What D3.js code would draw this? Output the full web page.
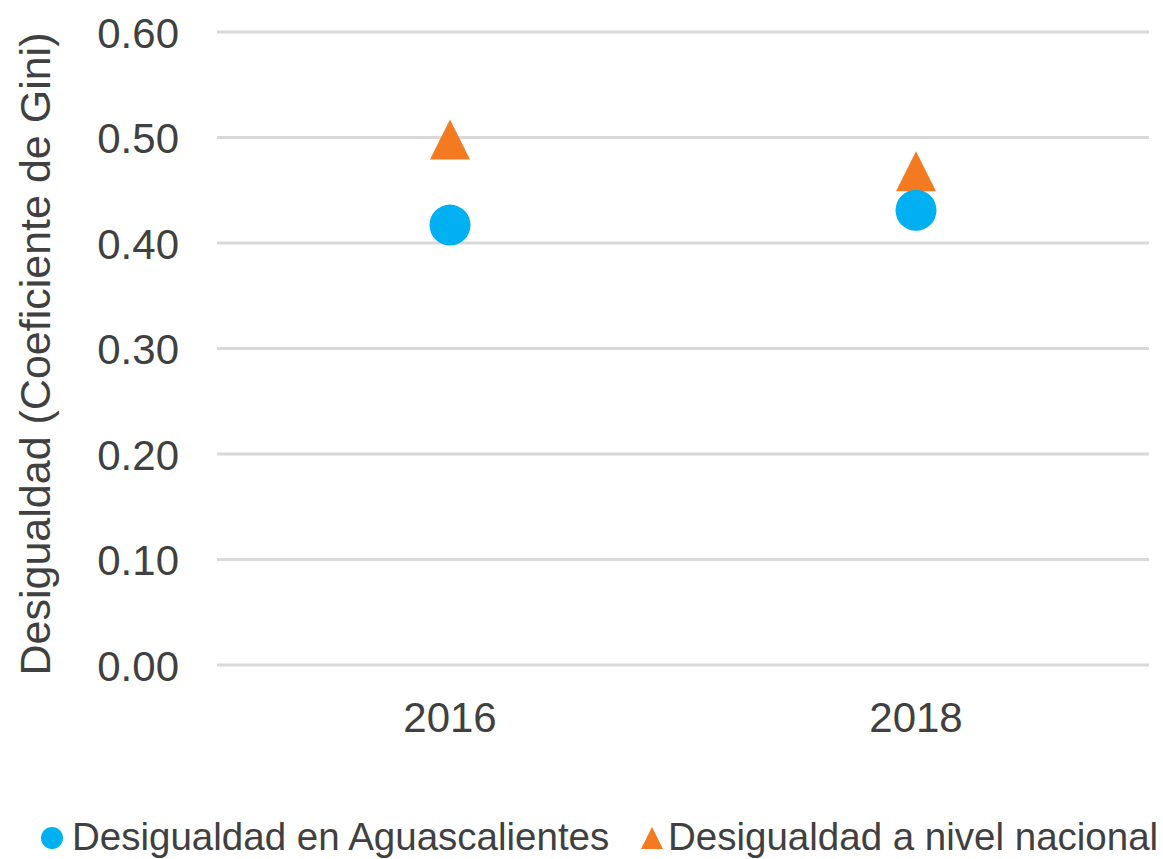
<!DOCTYPE html>
<html>
<head>
<meta charset="utf-8">
<script src="https://cdn.jsdelivr.net/npm/d3@7"></script>
<style>
  body { margin: 0; background: #fff; }
  text { font-family: "Liberation Sans", Arial, sans-serif; fill: #404040; }
</style>
</head>
<body>
<div id="chart"></div>
<script>
// Data
var years = ["2016", "2018"];
var aguascalientes = [0.417, 0.431];
var nacional = [0.498, 0.468];
var yTicks = [0, 0.1, 0.2, 0.3, 0.4, 0.5, 0.6];
var seriesNames = ["Desigualdad en Aguascalientes", "Desigualdad a nivel nacional"];
var seriesColors = ["#00b0f0", "#f37a20"];

var width = 1163, height = 859;

var svg = d3.select("#chart")
    .append("svg")
    .attr("width", width)
    .attr("height", height);

// Scales
var x = d3.scaleBand()
    .domain(years)
    .range([217, 1149]);

var y = d3.scaleLinear()
    .domain([0, 0.6])
    .range([665, 32]);

// Triangle with equal width and height, centred on its box
var boxTriangle = {
    draw: function(ctx, size) {
        var h = Math.sqrt(size) / 2;
        ctx.moveTo(0, -h);
        ctx.lineTo(h, h);
        ctx.lineTo(-h, h);
        ctx.closePath();
    }
};

// Gridlines
svg.append("g")
    .selectAll("line")
    .data(yTicks)
    .enter().append("line")
    .attr("x1", x.range()[0])
    .attr("x2", x.range()[1])
    .attr("y1", function(d) { return y(d); })
    .attr("y2", function(d) { return y(d); })
    .style("stroke", "#d9d9d9")
    .style("stroke-width", 3);

// Y axis labels
var yAxis = svg.append("g")
    .attr("transform", "translate(179,0)")
    .call(d3.axisLeft(y).tickValues(yTicks).tickFormat(d3.format(".2f")).tickSize(0).tickPadding(0));
yAxis.select(".domain").remove();
yAxis.selectAll("text")
    .style("font-size", "42px")
    .attr("dy", "0.36em")
    .style("fill", "#404040");

// X axis labels
var xAxis = svg.append("g")
    .attr("transform", "translate(0,700)")
    .call(d3.axisBottom(x).tickSize(0).tickPadding(0));
xAxis.select(".domain").remove();
xAxis.selectAll("text")
    .style("font-size", "42px")
    .attr("dy", "0.76em")
    .style("fill", "#404040");

// Y axis title
svg.append("text")
    .attr("transform", "translate(50,354) rotate(-90)")
    .attr("text-anchor", "middle")
    .style("font-size", "43px")
    .text("Desigualdad (Coeficiente de Gini)");

// Markers
var cx = function(i) { return x(years[i]) + x.bandwidth() / 2; };

svg.append("g")
    .selectAll("path")
    .data(nacional)
    .enter().append("path")
    .attr("d", d3.symbol().type(boxTriangle).size(40 * 40))
    .attr("transform", function(d, i) { return "translate(" + cx(i) + "," + y(d) + ")"; })
    .style("fill", seriesColors[1]);

svg.append("g")
    .selectAll("circle")
    .data(aguascalientes)
    .enter().append("circle")
    .attr("cx", function(d, i) { return cx(i); })
    .attr("cy", function(d) { return y(d); })
    .attr("r", 20.5)
    .style("fill", seriesColors[0]);

// Legend
var legend = svg.append("g");
legend.append("circle")
    .attr("cx", 52)
    .attr("cy", 838)
    .attr("r", 11)
    .style("fill", seriesColors[0]);
legend.append("text")
    .attr("x", 72)
    .attr("y", 850)
    .style("font-size", "38.5px")
    .text(seriesNames[0]);
legend.append("path")
    .attr("d", d3.symbol().type(boxTriangle).size(22 * 22))
    .attr("transform", "translate(652,838)")
    .style("fill", seriesColors[1]);
legend.append("text")
    .attr("x", 668)
    .attr("y", 850)
    .style("font-size", "38.5px")
    .text(seriesNames[1]);
</script>
</body>
</html>
